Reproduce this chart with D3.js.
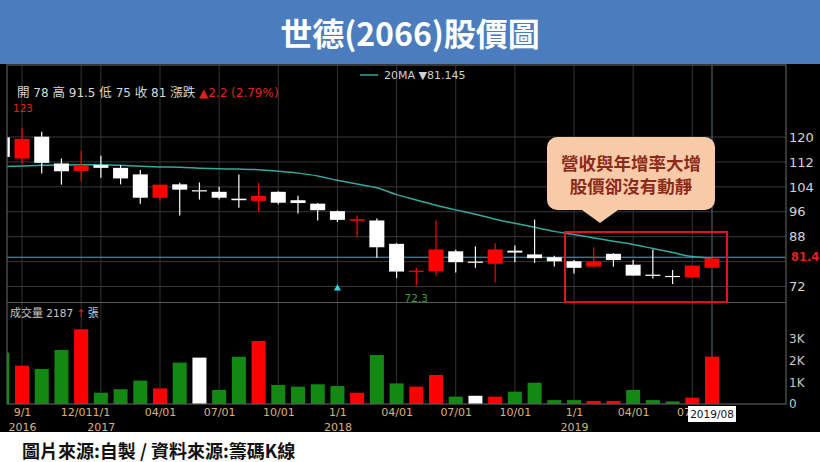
<!DOCTYPE html>
<html>
<head>
<meta charset="utf-8">
<script src="https://cdn.jsdelivr.net/npm/d3@7"></script>
<style>
  body { margin: 0; background: #fff; }
  svg { display: block; }
</style>
</head>
<body>
<div id="chart"></div>
<script>
// Monthly candles, Aug 2016 .. Aug 2019
const months = ['2016/08','2016/09','2016/10','2016/11','2016/12',
  '2017/01','2017/02','2017/03','2017/04','2017/05','2017/06','2017/07','2017/08','2017/09','2017/10','2017/11','2017/12',
  '2018/01','2018/02','2018/03','2018/04','2018/05','2018/06','2018/07','2018/08','2018/09','2018/10','2018/11','2018/12',
  '2019/01','2019/02','2019/03','2019/04','2019/05','2019/06','2019/07','2019/08'];
const opens  = [119.9,113.1,120.1,111.5,109.1,111.0,110.1,108.0,100.5,104.8,102.9,102.4,100.2,99.5,102.4,99.7,98.6,
                96.2,93.1,93.2,85.7,76.7,76.9,83.3,80.0,79.3,83.5,82.3,81.4,80.1,78.4,82.5,79.0,75.8,75.4,74.9,78.0];
const highs  = [121.0,123.0,121.7,113.1,115.6,114.0,111.0,109.4,104.7,105.3,105.4,104.0,108.0,105.3,102.6,101.1,98.8,
                96.4,94.8,93.8,85.9,78.0,93.2,83.8,84.9,85.9,85.2,93.5,81.9,80.5,84.6,82.7,80.5,83.9,77.3,78.7,81.4];
const lows   = [113.0,111.5,108.3,104.7,105.8,106.9,104.8,98.6,99.5,94.8,99.9,99.9,97.3,96.2,98.4,95.4,93.2,
                92.7,87.8,81.2,74.7,72.3,75.5,76.5,78.0,73.3,79.8,79.6,78.4,76.2,78.4,78.4,75.5,74.6,72.8,74.9,78.0];
const closes = [113.6,119.4,111.7,109.0,110.9,110.1,106.7,100.5,104.7,103.1,102.9,100.5,99.7,101.1,98.9,98.8,96.5,
                93.4,93.6,84.6,76.8,77.1,83.9,79.8,80.0,83.9,82.9,81.1,80.1,78.0,80.0,80.5,75.5,75.4,75.1,78.7,81.0];
const ma20   = [110.5,110.7,110.9,111.0,111.1,111.1,110.9,110.6,110.4,110.3,110.0,109.8,109.7,109.5,109.0,108.4,107.5,
                106.1,104.9,103.7,101.5,99.8,98.1,96.6,95.2,93.6,92.3,91.0,89.7,88.7,87.6,86.5,85.5,84.2,82.9,81.6,81.1];
const volumes = [2370,1770,1620,2490,3450,520,680,1080,720,1910,2140,650,2180,2910,880,800,910,
                 830,520,2260,950,800,1340,340,380,340,570,980,180,180,140,140,650,180,120,290,2187];
// u = up, d = down, f = flat (volume bar colour)
const volDir = ['d','u','d','d','u','d','d','d','u','d','f','d','d','u','d','d','d',
                'd','u','d','d','u','u','d','f','u','d','d','d','d','u','u','d','d','d','u','u'];

const priceTicks = [120, 112, 104, 96, 88, 72];
const priceGrid = [120, 112, 104, 96, 88, 80, 72];
const volTicks = [0, 1000, 2000, 3000];
const monthTicks = [1, 4, 5, 8, 11, 14, 17, 20, 23, 26, 29, 32, 35];
const monthLabels = ['9/1','12/01','1/1','04/01','07/01','10/01','1/1','04/01','07/01','10/01','1/1','04/01','07/01'];
const yearTicks = [1, 5, 17, 29];
const yearLabels = ['2016', '2017', '2018', '2019'];

const W = 820, H = 462;
const pL = 7, pR = 786, pT = 65, pMid = 302.5, pB = 404;
const latin = '"DejaVu Sans", sans-serif';
const cjk = '"Noto Sans CJK TC", "Noto Sans", sans-serif';

const svg = d3.select('#chart').append('svg')
    .attr('width', W).attr('height', H);

// Title bar
svg.append('rect').attr('width', W).attr('height', 64).attr('fill', '#4b7dbe');
svg.append('text')
    .attr('x', 410).attr('y', 32)
    .attr('text-anchor', 'middle').attr('dominant-baseline', 'central')
    .style('font-family', cjk).style('font-weight', 700).style('font-size', '32px')
    .attr('fill', '#fff')
    .text('世德(2066)股價圖');

// Chart background
svg.append('rect').attr('x', 0).attr('y', 64).attr('width', W).attr('height', 368).attr('fill', '#000');

// Scales
const x = d3.scaleLinear().domain([0, 36]).range([2.3, 712]);
const y = d3.scaleLinear().domain([72, 120]).range([286.5, 137]);
const yv = d3.scaleLinear().domain([0, 3000]).range([pB, 339]);

svg.append('clipPath').attr('id', 'plot-clip')
    .append('rect').attr('x', pL).attr('y', pT).attr('width', pR - pL).attr('height', pB - pT);

const plot = svg.append('g').attr('clip-path', 'url(#plot-clip)');

// Grid lines
plot.append('g').selectAll('line')
    .data(monthTicks).enter().append('line')
    .attr('x1', d => x(d)).attr('x2', d => x(d))
    .attr('y1', pT).attr('y2', pB)
    .attr('stroke', '#333').attr('stroke-width', 1);

plot.append('g').selectAll('line')
    .data(priceGrid).enter().append('line')
    .attr('x1', pL).attr('x2', pR)
    .attr('y1', d => y(d)).attr('y2', d => y(d))
    .attr('stroke', '#383838').attr('stroke-width', 1);

// Crosshair at the last month
const lastIdx = months.length - 1;
const crossPrice = 81.4;
plot.append('line')
    .attr('x1', x(lastIdx)).attr('x2', x(lastIdx))
    .attr('y1', pT).attr('y2', pB)
    .attr('stroke', '#5d6f7c').attr('stroke-width', 1);
plot.append('line')
    .attr('x1', pL).attr('x2', pR)
    .attr('y1', y(crossPrice)).attr('y2', y(crossPrice))
    .attr('stroke', '#5aa0c0').attr('stroke-width', 1);

// 20MA line
const maLine = d3.line()
    .x((d, i) => x(i))
    .y(d => y(d))
    .curve(d3.curveMonotoneX);
plot.append('path')
    .datum(ma20)
    .attr('d', maLine)
    .attr('fill', 'none')
    .attr('stroke', '#36a89c')
    .attr('stroke-width', 1.5);

// Candles
const bodyW = 15;
months.forEach((m, i) => {
    const up = closes[i] > opens[i];
    const col = up ? '#ff0000' : '#ffffff';
    const g = plot.append('g');
    g.append('line')
        .attr('x1', x(i)).attr('x2', x(i))
        .attr('y1', y(highs[i])).attr('y2', y(lows[i]))
        .attr('stroke', col).attr('stroke-width', 1.2);
    const yTop = y(Math.max(opens[i], closes[i]));
    const yBot = y(Math.min(opens[i], closes[i]));
    g.append('rect')
        .attr('x', x(i) - bodyW / 2)
        .attr('y', yTop)
        .attr('width', bodyW)
        .attr('height', Math.max(1.2, yBot - yTop))
        .attr('fill', col);
});

// Volume bars
const volColor = { u: '#ff0000', d: '#138913', f: '#ffffff' };
plot.append('g').selectAll('rect')
    .data(volumes).enter().append('rect')
    .attr('x', (d, i) => x(i) - 7)
    .attr('y', d => yv(d))
    .attr('width', 14)
    .attr('height', d => pB - yv(d))
    .attr('fill', (d, i) => volColor[volDir[i]]);

// Frame
const frame = svg.append('g').attr('stroke', '#5a5a5a').attr('stroke-width', 1.2).attr('fill', 'none');
frame.append('rect').attr('x', pL).attr('y', pT).attr('width', pR - pL).attr('height', pB - pT);
frame.append('line').attr('x1', pL).attr('x2', pR).attr('y1', pMid).attr('y2', pMid);

// Right price axis
const yAxis = svg.append('g')
    .attr('transform', `translate(${pR},0)`)
    .call(d3.axisRight(y).tickValues(priceTicks).tickSize(0).tickPadding(3));
yAxis.select('.domain').remove();
yAxis.selectAll('text')
    .style('font-family', latin).style('font-size', '13px').attr('fill', '#d4d4d4');

// Current price tag
svg.append('text')
    .attr('x', 791).attr('y', y(crossPrice))
    .attr('dominant-baseline', 'central')
    .style('font-family', latin).style('font-size', '11.5px').style('font-weight', 700)
    .attr('fill', '#e02020')
    .text(crossPrice.toFixed(1));

// Right volume axis
const vAxis = svg.append('g')
    .attr('transform', `translate(${pR},0)`)
    .call(d3.axisRight(yv).tickValues(volTicks).tickSize(0).tickPadding(3)
        .tickFormat(d => d === 0 ? '0' : (d / 1000) + 'K'));
vAxis.select('.domain').remove();
vAxis.selectAll('text')
    .style('font-family', latin).style('font-size', '12px').attr('fill', '#c8c8c8');

// Bottom axes: month row and year row
const monthMap = new Map(monthTicks.map((t, i) => [t, monthLabels[i]]));
const xAxis = svg.append('g')
    .attr('transform', `translate(0,${pB})`)
    .call(d3.axisBottom(x).tickValues(monthTicks).tickSize(0).tickPadding(4)
        .tickFormat(d => monthMap.get(d)));
xAxis.select('.domain').remove();
xAxis.selectAll('text')
    .style('font-family', latin).style('font-size', '11px').attr('fill', '#d9b37f');
// the December label sits a little left of its tick in the original
xAxis.selectAll('text').filter(d => d === 4).attr('dx', -5);

const yearMap = new Map(yearTicks.map((t, i) => [t, yearLabels[i]]));
const yrAxis = svg.append('g')
    .attr('transform', `translate(0,${pB})`)
    .call(d3.axisBottom(x).tickValues(yearTicks).tickSize(0).tickPadding(19)
        .tickFormat(d => yearMap.get(d)));
yrAxis.select('.domain').remove();
yrAxis.selectAll('text')
    .style('font-family', latin).style('font-size', '11px').attr('fill', '#d9b37f');

// Date tag for the crosshair
svg.append('rect')
    .attr('x', x(lastIdx) - 24).attr('y', 406)
    .attr('width', 48).attr('height', 16)
    .attr('fill', '#fff');
svg.append('text')
    .attr('x', x(lastIdx)).attr('y', 414)
    .attr('text-anchor', 'middle').attr('dominant-baseline', 'central')
    .style('font-family', latin).style('font-size', '10.5px')
    .attr('fill', '#111')
    .text(months[lastIdx]);

// OHLC header
const last = lastIdx;
const hdr = svg.append('text')
    .attr('x', 17).attr('y', 97)
    .style('font-family', latin).style('font-size', '12px')
    .attr('fill', '#d8d8d8');
const hdrParts = [
    ['開', true], [' ' + opens[last] + '  ', false],
    ['高', true], [' 91.5  ', false],
    ['低', true], [' 75  ', false],
    ['收', true], [' ' + closes[last] + '  ', false],
    ['漲跌', true]
];
hdrParts.forEach(([t, isCjk]) => {
    const s = hdr.append('tspan').text(t);
    if (isCjk) s.style('font-family', cjk).style('font-size', '12.5px');
});
hdr.append('tspan').attr('fill', '#e02020').text(' ▲2.2 (2.79%)');

// Highest price marker
const hiIdx = d3.maxIndex(highs);
svg.append('text')
    .attr('x', x(hiIdx) + 1).attr('y', y(highs[hiIdx]) - 16)
    .attr('text-anchor', 'middle')
    .style('font-family', latin).style('font-size', '10.5px')
    .attr('fill', '#e02020')
    .text(Math.round(highs[hiIdx]));

// Lowest price marker
const loIdx = d3.minIndex(lows);
svg.append('text')
    .attr('x', x(loIdx)).attr('y', y(lows[loIdx]) + 16)
    .attr('text-anchor', 'middle')
    .style('font-family', latin).style('font-size', '10.5px')
    .attr('fill', '#3c9c3c')
    .text(lows[loIdx].toFixed(1));

// Cyan event marker (Jan 2018)
const evIdx = 17;
svg.append('path')
    .attr('d', d3.symbol(d3.symbolTriangle, 22)())
    .attr('transform', `translate(${x(evIdx)},${y(71.4)})`)
    .attr('fill', '#33d6e0');

// 20MA legend
svg.append('line')
    .attr('x1', 360).attr('x2', 378).attr('y1', 75).attr('y2', 75)
    .attr('stroke', '#36a89c').attr('stroke-width', 1.5);
svg.append('text')
    .attr('x', 384).attr('y', 79)
    .style('font-family', latin).style('font-size', '11px')
    .attr('fill', '#d0d0d0')
    .text('20MA ▼' + '81.145');

// Volume header
const vh = svg.append('text')
    .attr('x', 10).attr('y', 317)
    .style('font-family', latin).style('font-size', '10.5px')
    .attr('fill', '#c8c8c8');
vh.append('tspan').style('font-family', cjk).style('font-size', '11px').text('成交量');
vh.append('tspan').text(' ' + volumes[last] + '  ');
vh.append('tspan').attr('fill', '#e02020').text('↑');
vh.append('tspan').style('font-family', cjk).style('font-size', '11px').text('  張');

// Highlight box around the last 8 months
svg.append('rect')
    .attr('x', x(29) - 9).attr('y', y(89.5))
    .attr('width', x(36) + 15 - (x(29) - 9))
    .attr('height', y(67) - y(89.5))
    .attr('fill', 'none')
    .attr('stroke', '#e3121b').attr('stroke-width', 2);

// Callout bubble
const bx = 547, by = 137, bw = 168, bh = 73, r = 10, tipX = 600;
const bubble = d3.path();
bubble.moveTo(bx + r, by);
bubble.lineTo(bx + bw - r, by);
bubble.arcTo(bx + bw, by, bx + bw, by + r, r);
bubble.lineTo(bx + bw, by + bh - r);
bubble.arcTo(bx + bw, by + bh, bx + bw - r, by + bh, r);
bubble.lineTo(tipX + 18, by + bh);
bubble.lineTo(tipX, by + bh + 13);
bubble.lineTo(tipX - 18, by + bh);
bubble.lineTo(bx + r, by + bh);
bubble.arcTo(bx, by + bh, bx, by + bh - r, r);
bubble.lineTo(bx, by + r);
bubble.arcTo(bx, by, bx + r, by, r);
bubble.closePath();
svg.append('path').attr('d', bubble.toString()).attr('fill', '#f8caa8');

const calloutLines = ['營收與年增率大增', '股價卻沒有動靜'];
svg.append('g').selectAll('text')
    .data(calloutLines).enter().append('text')
    .attr('x', 631).attr('y', (d, i) => 162 + i * 23)
    .attr('text-anchor', 'middle').attr('dominant-baseline', 'central')
    .style('font-family', cjk).style('font-weight', 700).style('font-size', '17.5px')
    .attr('fill', '#8c2b1c')
    .text(d => d);

// Source line
svg.append('text')
    .attr('x', 22).attr('y', 450)
    .attr('dominant-baseline', 'central')
    .style('font-family', cjk).style('font-weight', 700).style('font-size', '18px')
    .attr('fill', '#111')
    .text('圖片來源:自製 / 資料來源:籌碼K線');
</script>
</body>
</html>
